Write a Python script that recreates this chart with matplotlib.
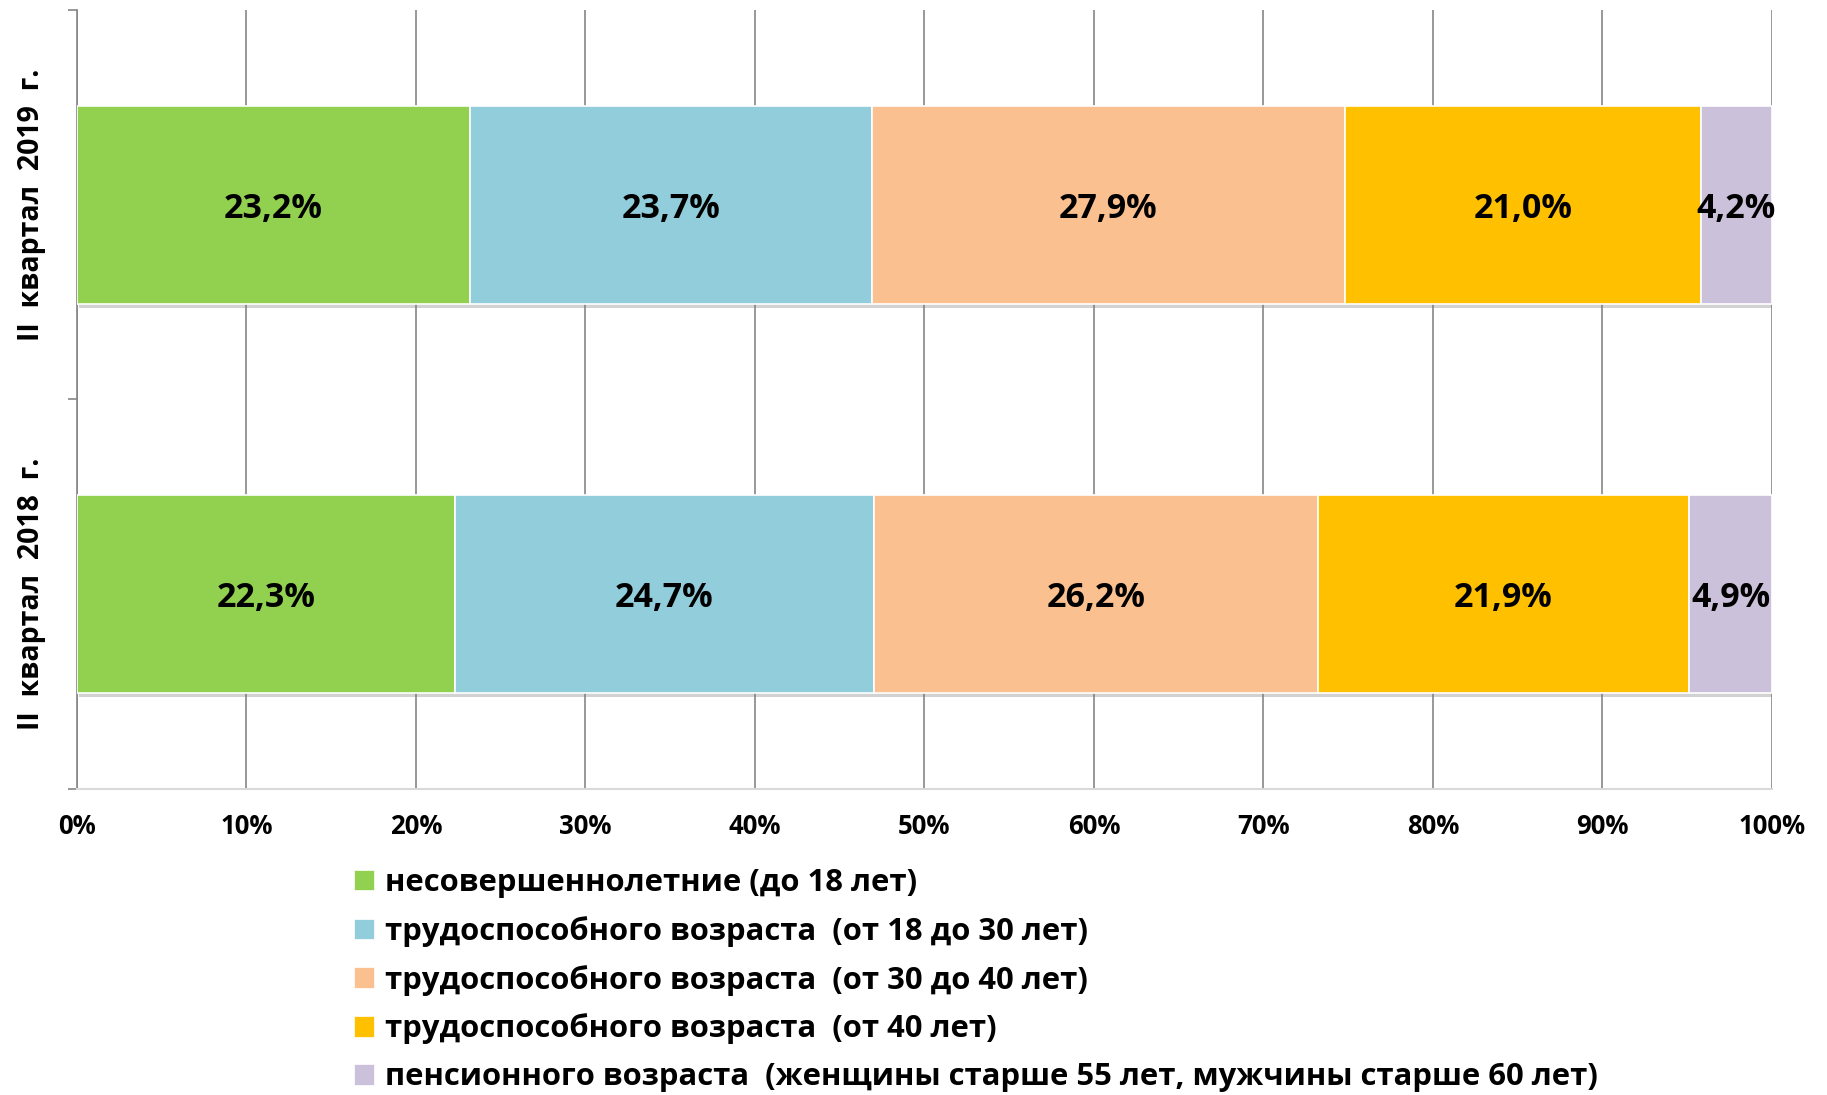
import numpy as np
import matplotlib
matplotlib.use("Agg")
from matplotlib import pyplot as plt
from matplotlib.patches import Patch
import matplotlib.patheffects as pe

plt.rcParams['font.family'] = ['Open Sans', 'DejaVu Sans']
plt.rcParams['font.weight'] = 'bold'

# периоды (снизу вверх) и доли возрастных групп, %
periods = ['II  квартал  2018  г.', 'II  квартал  2019  г.']
groups = ['несовершеннолетние (до 18 лет)',
          'трудоспособного возраста  (от 18 до 30 лет)',
          'трудоспособного возраста  (от 30 до 40 лет)',
          'трудоспособного возраста  (от 40 лет)',
          'пенсионного возраста  (женщины старше 55 лет, мужчины старше 60 лет)']
share_2018 = [22.3, 24.7, 26.2, 21.9, 4.9]
share_2019 = [23.2, 23.7, 27.9, 21.0, 4.2]
colors = ['#92D050', '#92CDDC', '#FAC090', '#FFC000', '#CCC1DA']
xticks = [0, 10, 20, 30, 40, 50, 60, 70, 80, 90, 100]

values = np.array([share_2018, share_2019])

fig = plt.figure(figsize=(18.27, 10.95), dpi=100)
ax = fig.add_axes([0.0421, 0.2795, 0.9278, 0.7114])

ypos = np.arange(len(periods))
left = np.zeros(len(periods))
shadow = [pe.SimplePatchShadow(offset=(1.5, -3), shadow_rgbFace='#808080', alpha=0.35), pe.Normal()]
for i, g in enumerate(groups):
    bars = ax.barh(ypos, values[:, i], left=left, height=0.508, color=colors[i],
                   edgecolor='white', linewidth=1.2, zorder=3)
    for b in bars:
        b.set_path_effects(shadow)
    for y, l, v in zip(ypos, left, values[:, i]):
        ax.text(l + v / 2, y, ('%.1f%%' % v).replace('.', ','), ha='center', va='center_baseline',
                fontsize=24.5, fontweight='bold', color='black', zorder=4)
    left = left + values[:, i]

ax.set_xlim(0, 100)
ax.set_ylim(-0.5, 1.5)
ax.set_xticks(xticks)
ax.set_xticklabels(['%d%%' % t for t in xticks], fontsize=18.5, fontweight='bold')
ax.tick_params(axis='x', length=0, pad=17)
ax.grid(axis='x', color='#868686', linewidth=1.2, zorder=0)
ax.set_axisbelow(True)

ax.set_yticks([-0.5, 0.5, 1.5])
ax.set_yticklabels([])
ax.tick_params(axis='y', which='major', length=6.5, width=1.2, color='#868686')
ax.set_yticks(ypos, minor=True)
ax.set_yticklabels(periods, minor=True, rotation=90, va='center', fontsize=20.5, fontweight='bold')
ax.tick_params(axis='y', which='minor', length=0, pad=22)

for s in ['top', 'right']:
    ax.spines[s].set_visible(False)
ax.spines['left'].set_color('#868686')
ax.spines['left'].set_linewidth(1.2)
ax.spines['bottom'].set_color('#d9d9d9')
ax.spines['bottom'].set_linewidth(1.5)

handles = [Patch(facecolor=c, edgecolor='white', linewidth=0.5) for c in colors]
fig.legend(handles, groups, loc='upper left', bbox_to_anchor=(0.1935, 0.2075), frameon=False,
           fontsize=22.3, handlelength=0.645, handleheight=0.645, handletextpad=0.36,
           labelspacing=0.58, borderpad=0, borderaxespad=0)

fig.savefig('out.png', dpi=100)
